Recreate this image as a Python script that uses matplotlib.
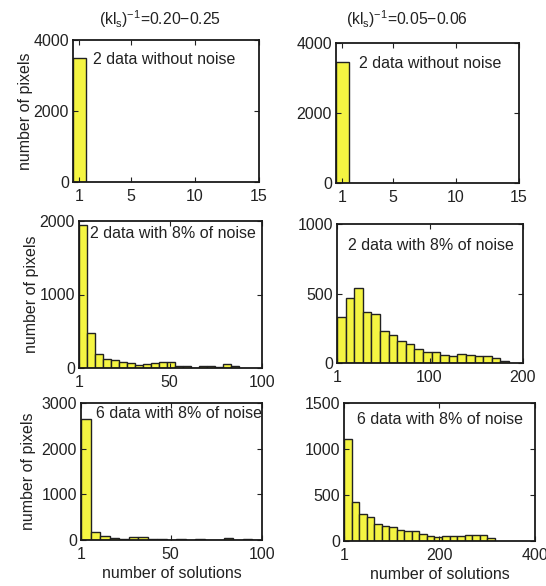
import numpy as np
import matplotlib
matplotlib.use('Agg')
import matplotlib.pyplot as plt

plt.rcParams['font.family'] = ['Liberation Sans', 'DejaVu Sans']
plt.rcParams['font.size'] = 11.5
plt.rcParams['mathtext.fontset'] = 'custom'
plt.rcParams['mathtext.rm'] = 'Liberation Sans'
plt.rcParams['mathtext.it'] = 'Liberation Sans'

# histogram data (bin start, bin width, counts)
p1_start, p1_width = 0.5, 1.0
p1_counts = [3500]

p2_start, p2_width = 0.5, 1.0
p2_counts = [3470]

p3_start, p3_width = 1, 4.33
p3_counts = [1950, 482, 196, 122, 105, 87, 68, 41, 60, 68,
             78, 75, 32, 27, 5, 27, 27, 18, 55, 30]

p4_start, p4_width = 1, 9.2
p4_counts = [333, 470, 540, 369, 355, 230, 199, 158, 139, 103,
             76, 79, 57, 53, 65, 55, 48, 48, 38, 16]

p5_start, p5_width = 1, 5.2
p5_counts = [2650, 168, 85, 44, 30, 55, 55, 15, 15, 10,
             20, 8, 25, 8, 5, 40, 5, 15, 10]

p6_start, p6_width = 1, 15.75
p6_counts = [1112, 428, 297, 257, 188, 163, 152, 123, 109, 109,
             80, 54, 47, 58, 54, 54, 65, 62, 62, 29]

titles = [r'$(kl_s)^{-1}$=0.20$-$0.25', r'$(kl_s)^{-1}$=0.05$-$0.06']
labels = ['2 data without noise', '2 data without noise',
          '2 data with 8% of noise', '2 data with 8% of noise',
          '6 data with 8% of noise', '6 data with 8% of noise']

W, H = 546, 586
fig = plt.figure(figsize=(W / 100, H / 100), dpi=100)

def add_ax(l, r, t, b):
    return fig.add_axes([l / W, (H - b) / H, (r - l) / W, (b - t) / H])

def hist_panel(ax, start, width, counts, xlim, xticks, ylim, yticks):
    counts = np.array(counts)
    edges = start + width * np.arange(len(counts))
    ax.bar(edges, counts, width=width, align='edge', color='#f5f542',
           edgecolor='#222222', linewidth=1.0)
    ax.set_xlim(xlim)
    ax.set_ylim(ylim)
    ax.set_xticks(xticks)
    ax.set_yticks(yticks)
    ax.tick_params(direction='in', top=True, right=True, length=3.5,
                   width=0.8, pad=3, colors='#222222')
    ax.tick_params(axis='x', pad=5)
    for s in ax.spines.values():
        s.set_linewidth(1.3)
        s.set_color('#1a1a1a')

ax1 = add_ax(73, 259, 40, 182)
hist_panel(ax1, p1_start, p1_width, p1_counts, (0.5, 15), [1, 5, 10, 15],
           (0, 4000), [0, 2000, 4000])
ax2 = add_ax(336, 519, 43, 183)
hist_panel(ax2, p2_start, p2_width, p2_counts, (0.5, 15), [1, 5, 10, 15],
           (0, 4000), [0, 2000, 4000])
ax3 = add_ax(79, 262, 221, 368)
hist_panel(ax3, p3_start, p3_width, p3_counts, (1, 100), [1, 50, 100],
           (0, 2000), [0, 1000, 2000])
ax4 = add_ax(337, 523, 224, 363)
hist_panel(ax4, p4_start, p4_width, p4_counts, (1, 200), [1, 100, 200],
           (0, 1000), [0, 500, 1000])
ax5 = add_ax(81, 262, 403, 540)
hist_panel(ax5, p5_start, p5_width, p5_counts, (1, 100), [1, 50, 100],
           (0, 3000), [0, 1000, 2000, 3000])
ax6 = add_ax(344, 535, 403, 541)
hist_panel(ax6, p6_start, p6_width, p6_counts, (1, 400), [1, 200, 400],
           (0, 1500), [0, 500, 1000, 1500])

ax1.set_title(titles[0], x=0.47, pad=11, fontsize=11.3, color='#222222')
ax2.set_title(titles[1], x=0.39, pad=13, fontsize=11.3, color='#222222')

txt = dict(color='#222222', va='center')
ax1.text(0.108, 0.86, labels[0], transform=ax1.transAxes, ha='left', **txt)
ax2.text(0.126, 0.857, labels[1], transform=ax2.transAxes, ha='left', **txt)
ax3.text(0.06, 0.918, labels[2], transform=ax3.transAxes, ha='left', **txt)
ax4.text(0.505, 0.842, labels[3], transform=ax4.transAxes, ha='center', **txt)
ax5.text(0.083, 0.927, labels[4], transform=ax5.transAxes, ha='left', **txt)
ax6.text(0.503, 0.877, labels[5], transform=ax6.transAxes, ha='center', **txt)

ax1.set_ylabel('number of pixels', color='#222222', labelpad=0)
ax3.set_ylabel('number of pixels', color='#222222', labelpad=0)
ax5.set_ylabel('number of pixels', color='#222222')
for ax in (ax5, ax6):
    ax.set_xlabel('number of solutions', color='#222222', labelpad=3)

fig.savefig('out.png', dpi=100)
